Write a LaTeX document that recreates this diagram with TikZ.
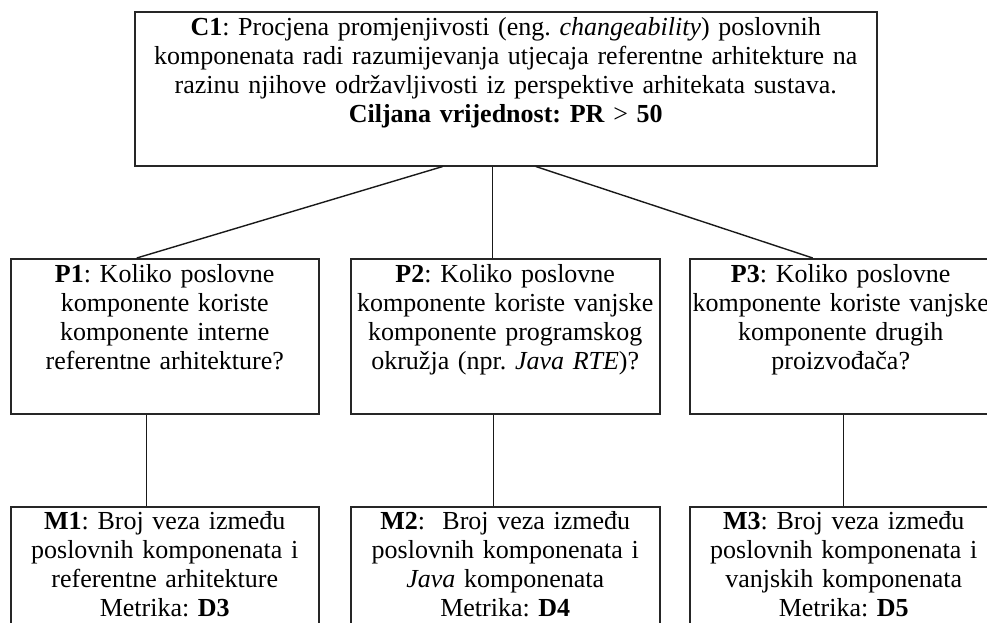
\documentclass[tikz,border=0pt]{standalone}
\usepackage{fontspec}
\setmainfont{Liberation Serif}
\begin{document}
\frenchspacing
\begin{tikzpicture}[x=1pt,y=-1pt,
  box/.style={draw=black!85, line width=1.5pt, rectangle, inner sep=0pt, anchor=north west},
  txt/.style={anchor=base, align=center, inner sep=0pt, font=\fontsize{26}{29}\selectfont\frenchspacing},
  conn/.style={draw=black!90, line width=1.4pt}]
\useasboundingbox (0,0) rectangle (987,622);
% boxes
\node[box, minimum width=742pt, minimum height=154pt] (c1) at (134,11) {};
\node[box, minimum width=308pt, minimum height=155pt] (p1) at (10,258) {};
\node[box, minimum width=309pt, minimum height=155pt] (p2) at (350,258) {};
\node[box, minimum width=308pt, minimum height=155pt] (p3) at (689,258) {};
\node[box, minimum width=308pt, minimum height=154pt] (m1) at (10,506) {};
\node[box, minimum width=309pt, minimum height=154pt] (m2) at (350,506) {};
\node[box, minimum width=308pt, minimum height=154pt] (m3) at (689,506) {};
% texts
\node[txt, text width=730pt] (c1t) at ([yshift=-24pt]c1.north) {\textbf{C1}: Procjena promjenjivosti (eng. \textit{changeability}) poslovnih\\komponenata radi razumijevanja utjecaja referentne arhitekture na\\razinu njihove održavljivosti iz perspektive arhitekata sustava.\\\textbf{Ciljana vrijednost: PR} > \textbf{50}};
\node[txt, text width=300pt] (p1t) at ([yshift=-24pt]p1.north) {\textbf{P1}: Koliko poslovne\\komponente koriste\\komponente interne\\referentne arhitekture?};
\node[txt, text width=300pt] (p2t) at ([yshift=-24pt]p2.north) {\textbf{P2}: Koliko poslovne\\komponente koriste vanjske\\komponente programskog\\okružja (npr. \textit{Java RTE})?};
\node[txt, text width=300pt] (p3t) at ([xshift=-3pt,yshift=-24pt]p3.north) {\textbf{P3}: Koliko poslovne\\komponente koriste vanjske\\komponente drugih\\proizvođača?};
\node[txt, text width=300pt] (m1t) at ([yshift=-23pt]m1.north) {\textbf{M1}: Broj veza između\\poslovnih komponenata i\\referentne arhitekture\\Metrika: \textbf{D3}};
\node[txt, text width=300pt] (m2t) at ([yshift=-23pt]m2.north) {\textbf{M2}:\ \ Broj veza između\\poslovnih komponenata i\\\textit{Java} komponenata\\Metrika: \textbf{D4}};
\node[txt, text width=300pt] (m3t) at ([yshift=-23pt]m3.north) {\textbf{M3}: Broj veza između\\poslovnih komponenata i\\vanjskih komponenata\\Metrika: \textbf{D5}};
% connectors
\draw[conn] ([xshift=-63pt]c1.south) -- ([xshift=-28pt]p1.north);
\draw[conn] ([xshift=-13pt]c1.south) -- ([xshift=-12.5pt]p2.north);
\draw[conn] ([xshift=30pt]c1.south) -- ([xshift=-31pt]p3.north);
\draw[conn] ([xshift=-18pt]p1.south) -- ([xshift=-18pt]m1.north);
\draw[conn] ([xshift=-11.5pt]p2.south) -- ([xshift=-11.5pt]m2.north);
\draw[conn] (p3.south) -- (m3.north);
\end{tikzpicture}
\end{document}
